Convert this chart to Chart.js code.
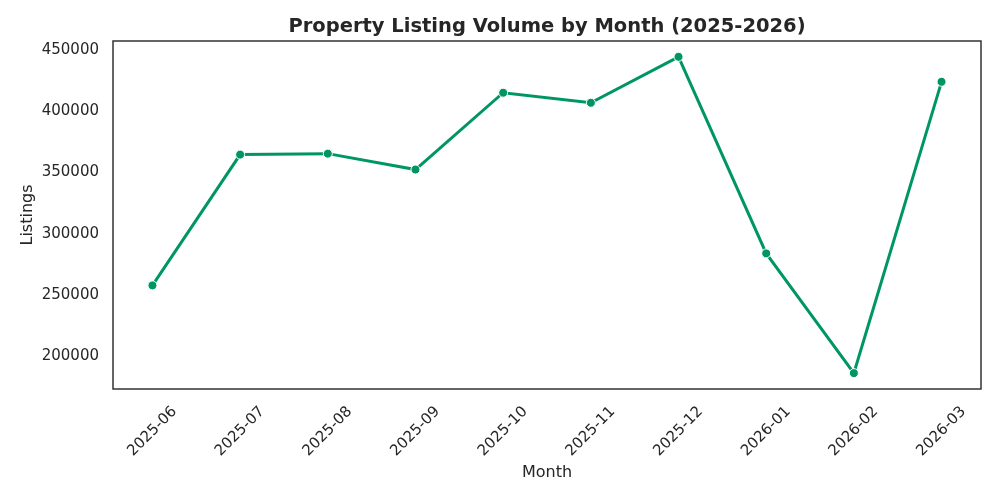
<!DOCTYPE html>
<html>
<head>
<meta charset="utf-8">
<script src="https://cdn.jsdelivr.net/npm/chart.js@4/dist/chart.umd.min.js"></script>
<style>
  html, body { margin: 0; padding: 0; background: #fff; }
  #wrap { width: 1000px; height: 500px; }
</style>
</head>
<body>
<div id="wrap"><canvas id="myChart" width="1000" height="500"></canvas></div>
<script>
// data
var months = ['2025-06', '2025-07', '2025-08', '2025-09', '2025-10', '2025-11', '2025-12', '2026-01', '2026-02', '2026-03'];
var listings = [257800, 364500, 365300, 352300, 415000, 406800, 444300, 283900, 186200, 423900];
var yTicks = [200000, 250000, 300000, 350000, 400000, 450000];
var title = 'Property Listing Volume by Month (2025-2026)';

var green = '#009664';
var ink = '#262626';
var font = 'DejaVu Sans';

// box round the plot area + title centred over it (matplotlib style)
var frame = {
    id: 'frame',
    afterDraw: function(chart) {
        var a = chart.chartArea;
        var c = chart.ctx;
        c.save();
        c.strokeStyle = '#333333';
        c.lineWidth = 1.5;
        c.strokeRect(a.left, a.top, a.right - a.left, a.bottom - a.top);
        c.fillStyle = ink;
        c.font = 'bold 19.5px "' + font + '"';
        c.textAlign = 'center';
        c.textBaseline = 'middle';
        c.fillText(title, (a.left + a.right) / 2, 27);
        c.restore();
    }
};

var points = listings.map(function(v, i) { return { x: i, y: v }; });

var ctx = document.getElementById('myChart').getContext('2d');
var chart = new Chart(ctx, {
    type: 'line',
    data: {
        datasets: [{
            label: 'Listings',
            data: points,
            borderColor: green,
            backgroundColor: green,
            borderWidth: 3,
            pointRadius: 4.5,
            pointBorderColor: '#ffffff',
            pointBorderWidth: 1,
            pointBackgroundColor: green,
            tension: 0
        }]
    },
    options: {
        responsive: false,
        animation: false,
        layout: { padding: { left: 0, right: 19, top: 41, bottom: 0 } },
        plugins: {
            legend: { display: false },
            tooltip: { enabled: false },
            title: { display: false }
        },
        scales: {
            x: {
                type: 'linear',
                min: -0.45,
                max: months.length - 1 + 0.45,
                afterBuildTicks: function(scale) {
                    scale.ticks = months.map(function(m, i) { return { value: i }; });
                },
                afterFit: function(scale) { scale.height = 111; },
                grid: { display: false, drawTicks: false },
                border: { display: false },
                ticks: {
                    autoSkip: false,
                    minRotation: 45,
                    maxRotation: 45,
                    labelOffset: 22,
                    padding: 14,
                    color: ink,
                    font: { family: font, size: 15 },
                    callback: function(v) { return months[v]; }
                },
                title: {
                    display: true,
                    text: 'Month',
                    color: ink,
                    font: { family: font, size: 16 },
                    padding: { top: 18, bottom: 18 }
                }
            },
            y: {
                min: 173250,
                max: 457200,
                afterBuildTicks: function(scale) {
                    scale.ticks = yTicks.map(function(v) { return { value: v }; });
                },
                afterFit: function(scale) { scale.width = 113; },
                grid: { display: false, drawTicks: false },
                border: { display: false },
                ticks: {
                    padding: 14,
                    color: ink,
                    font: { family: font, size: 15 },
                    callback: function(v) { return String(v); }
                },
                title: {
                    display: true,
                    text: 'Listings',
                    color: ink,
                    font: { family: font, size: 16 },
                    padding: { top: 18, bottom: 18 }
                }
            }
        }
    },
    plugins: [frame]
});
</script>
</body>
</html>
